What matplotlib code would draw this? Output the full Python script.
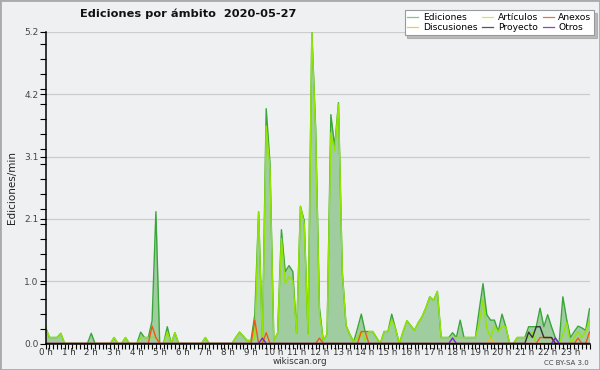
import numpy as np
import matplotlib
matplotlib.use('Agg')
import matplotlib.pyplot as plt
from matplotlib.lines import Line2D
from matplotlib.patches import Rectangle
from matplotlib.ticker import FixedLocator, MultipleLocator

# valores cada 10 minutos (144 puntos), ediciones por minuto
ediciones = [
    0.27, 0.10, 0.10, 0.10, 0.17, 0.00, 0.00, 0.00, 0.00, 0.00, 0.00, 0.00,   # 0-1 h
    0.17, 0.00, 0.00, 0.00, 0.00, 0.00, 0.10, 0.00, 0.00, 0.10, 0.00, 0.00,   # 2-3 h
    0.00, 0.19, 0.10, 0.10, 0.38, 2.20, 0.00, 0.00, 0.28, 0.00, 0.18, 0.00,   # 4-5 h
    0.00, 0.00, 0.00, 0.00, 0.00, 0.00, 0.10, 0.00, 0.00, 0.00, 0.00, 0.00,   # 6-7 h
    0.00, 0.00, 0.10, 0.19, 0.12, 0.05, 0.05, 0.48, 2.20, 0.10, 3.92, 3.00,   # 8-9 h
    0.05, 0.17, 1.90, 1.20, 1.30, 1.20, 0.17, 2.29, 2.05, 0.17, 5.20, 3.60,   # 10-11 h
    0.60, 0.05, 0.15, 3.82, 3.29, 4.02, 1.20, 0.30, 0.15, 0.03, 0.25, 0.49,   # 12-13 h
    0.20, 0.20, 0.20, 0.10, 0.00, 0.20, 0.20, 0.49, 0.25, 0.00, 0.20, 0.38,   # 14-15 h
    0.30, 0.22, 0.35, 0.45, 0.60, 0.78, 0.72, 0.87, 0.10, 0.10, 0.10, 0.18,   # 16-17 h
    0.10, 0.39, 0.10, 0.10, 0.10, 0.10, 0.56, 1.00, 0.48, 0.39, 0.39, 0.20,   # 18-19 h
    0.49, 0.28, 0.00, 0.00, 0.10, 0.10, 0.10, 0.28, 0.28, 0.28, 0.59, 0.28,   # 20-21 h
    0.48, 0.28, 0.10, 0.00, 0.78, 0.40, 0.10, 0.20, 0.29, 0.26, 0.22, 0.58,   # 22-23 h
]
articulos = [
    0.27, 0.10, 0.10, 0.10, 0.17, 0.00, 0.00, 0.00, 0.00, 0.00, 0.00, 0.00,
    0.00, 0.00, 0.00, 0.00, 0.00, 0.00, 0.10, 0.00, 0.00, 0.10, 0.00, 0.00,
    0.00, 0.10, 0.10, 0.10, 0.10, 0.10, 0.00, 0.00, 0.19, 0.00, 0.18, 0.00,
    0.00, 0.00, 0.00, 0.00, 0.00, 0.00, 0.10, 0.00, 0.00, 0.00, 0.00, 0.00,
    0.00, 0.00, 0.10, 0.19, 0.12, 0.05, 0.05, 0.09, 2.20, 0.00, 3.63, 2.90,
    0.05, 0.17, 1.75, 1.00, 1.12, 1.05, 0.17, 2.29, 2.00, 0.15, 5.20, 3.50,
    0.50, 0.05, 0.15, 3.52, 3.21, 4.00, 1.20, 0.30, 0.15, 0.03, 0.10, 0.20,
    0.05, 0.20, 0.20, 0.10, 0.00, 0.20, 0.20, 0.40, 0.25, 0.00, 0.20, 0.38,
    0.30, 0.22, 0.35, 0.45, 0.60, 0.78, 0.72, 0.87, 0.10, 0.10, 0.10, 0.10,
    0.10, 0.10, 0.10, 0.10, 0.10, 0.10, 0.33, 0.73, 0.25, 0.10, 0.28, 0.20,
    0.28, 0.28, 0.00, 0.00, 0.10, 0.10, 0.10, 0.10, 0.19, 0.00, 0.00, 0.00,
    0.00, 0.00, 0.00, 0.00, 0.15, 0.35, 0.00, 0.10, 0.20, 0.10, 0.20, 0.38,
]
anexos = [
    0.00, 0.00, 0.00, 0.00, 0.00, 0.00, 0.00, 0.00, 0.00, 0.00, 0.00, 0.00,
    0.00, 0.00, 0.00, 0.00, 0.00, 0.00, 0.00, 0.00, 0.00, 0.00, 0.00, 0.00,
    0.00, 0.00, 0.00, 0.00, 0.29, 0.10, 0.00, 0.00, 0.00, 0.00, 0.00, 0.00,
    0.00, 0.00, 0.00, 0.00, 0.00, 0.00, 0.00, 0.00, 0.00, 0.00, 0.00, 0.00,
    0.00, 0.00, 0.00, 0.00, 0.00, 0.00, 0.00, 0.39, 0.00, 0.00, 0.18, 0.00,
    0.00, 0.00, 0.00, 0.00, 0.00, 0.00, 0.00, 0.00, 0.00, 0.00, 0.00, 0.00,
    0.09, 0.00, 0.00, 0.00, 0.00, 0.00, 0.00, 0.00, 0.00, 0.00, 0.00, 0.20,
    0.20, 0.00, 0.00, 0.00, 0.00, 0.00, 0.00, 0.00, 0.00, 0.00, 0.00, 0.00,
    0.00, 0.00, 0.00, 0.00, 0.00, 0.00, 0.00, 0.00, 0.00, 0.00, 0.00, 0.00,
    0.00, 0.00, 0.00, 0.00, 0.00, 0.00, 0.00, 0.00, 0.00, 0.00, 0.00, 0.00,
    0.00, 0.00, 0.00, 0.00, 0.00, 0.00, 0.00, 0.00, 0.00, 0.00, 0.10, 0.10,
    0.10, 0.10, 0.00, 0.00, 0.00, 0.00, 0.00, 0.00, 0.09, 0.00, 0.00, 0.19,
]
discusiones = [0.0] * 117 + [0.09] + [0.0] * 26
proyecto = [0.0] * 127 + [0.19, 0.10, 0.28, 0.28, 0.10, 0.10, 0.10] + [0.0] * 10
otros = [0.0] * 57 + [0.09] + [0.0] * 49 + [0.09] + [0.0] * 26 + [0.09] + [0.0] * 9

horas = ['%d h' % h for h in range(24)]
yticks = [0, 1.04, 2.08, 3.12, 4.16, 5.2]
ylabels = ['0.0', '1.0', '2.1', '3.1', '4.2', '5.2']

bg = '#eff0f2'
x = np.arange(len(ediciones))

fig = plt.figure(figsize=(6, 3.7), dpi=100, facecolor=bg)
ax = fig.add_axes([0.076, 0.0716, 0.9065, 0.842], facecolor=bg)

ax.fill_between(x, ediciones, color='#9fcd9f', lw=0, zorder=1)
ax.plot(x, ediciones, color='#3aa63a', lw=1.0, zorder=2)
ax.plot(x, discusiones, color='#f0c020', lw=1.0, zorder=2)
ax.plot(x, articulos, color='#92e600', lw=1.0, zorder=2)
ax.plot(x, anexos, color='#f05a10', lw=1.0, zorder=2)
ax.plot(x, proyecto, color='#333333', lw=1.0, zorder=2)
ax.plot(x, otros, color='#7a20e0', lw=1.0, zorder=2)

ax.set_xlim(0, len(x) - 1)
ax.set_ylim(0, 5.2)
ax.set_yticks(yticks)
ax.set_yticklabels(ylabels)
ax.yaxis.set_minor_locator(MultipleLocator(0.25))
ax.set_xticks(np.arange(0, 144, 6))
ax.set_xticklabels(horas)
ax.xaxis.set_minor_locator(FixedLocator(np.arange(0, 144, 1)))
ax.tick_params(axis='y', which='both', length=4, width=0.8, labelsize=6.5,
               labelcolor='#444444', pad=1)
ax.tick_params(axis='x', which='both', length=3.5, width=0.8, labelsize=6.3,
               labelcolor='#333333', pad=0)
ax.grid(axis='y', which='major', color='#cccccc', lw=0.9, zorder=0)
ax.set_axisbelow(True)
for s in ['top', 'right']:
    ax.spines[s].set_visible(False)
for s in ['left', 'bottom']:
    ax.spines[s].set_linewidth(1.1)
    ax.spines[s].set_zorder(3)

ax.set_ylabel('Ediciones/min', fontsize=7.5, color='#222222', labelpad=5)

fig.text(188 / 600, 1 - 14 / 370, 'Ediciones por ámbito  2020-05-27', ha='center',
         va='center', fontsize=8.2, fontweight='bold', color='#111111')
fig.text(300 / 600, 1 - 362 / 370, 'wikiscan.org', ha='center', va='center',
         fontsize=6.3, color='#333333')
fig.text(589 / 600, 1 - 363 / 370, 'CC BY-SA 3.0', ha='right', va='center',
         fontsize=5, color='#444444')

nombres = ['Ediciones', 'Discusiones', 'Artículos', 'Proyecto', 'Anexos', 'Otros']
colores = ['#80c880', '#f0cc40', '#c8ee50', '#555555', '#f07040', '#8c40e0']
handles = [Line2D([], [], color=c, lw=0.9) for c in colores]
leg = fig.legend(handles, nombres, ncol=3, loc='upper right',
                 bbox_to_anchor=(594 / 600, 1 - 10 / 370), fontsize=6.6,
                 frameon=True, fancybox=False, shadow={'color': '#888888'},
                 edgecolor='#999999', facecolor='white', framealpha=1,
                 handlelength=1.2, handletextpad=0.5, columnspacing=0.5,
                 labelspacing=0.15, borderpad=0.3, borderaxespad=0)
leg.get_frame().set_linewidth(0.8)

fig.patches.append(Rectangle((0, 0), 1, 1, transform=fig.transFigure, fill=False,
                             edgecolor='#aaaaaa', lw=2))

fig.savefig('out.png', dpi=100, facecolor=bg)
